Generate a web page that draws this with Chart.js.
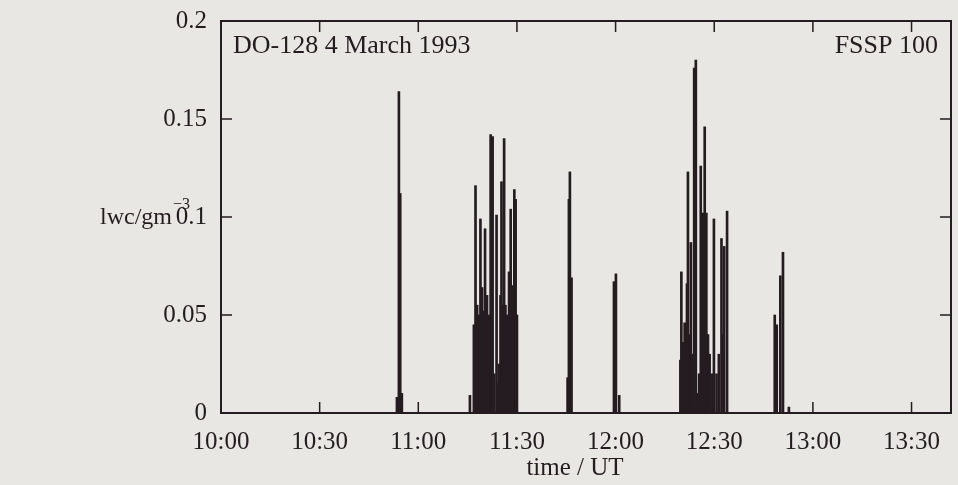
<!DOCTYPE html>
<html>
<head>
<meta charset="utf-8">
<title>DO-128 4 March 1993 - FSSP 100</title>
<script src="https://cdn.jsdelivr.net/npm/chart.js@4.4.1/dist/chart.umd.min.js"></script>
<style>
  html, body { margin: 0; padding: 0; background: #e8e7e3; }
  #lwcChart { display: block; }
</style>
</head>
<body>
<canvas id="lwcChart" width="958" height="485"></canvas>
<script>
// time in minutes after 10:00 UT, lwc in g/m^3
const times = [
  53.5, 54.1, 54.5, 55.0,
  75.7, 76.9, 77.4, 77.9, 78.4, 78.9, 79.4, 79.9, 80.3, 80.9, 81.4, 82.0, 82.3, 82.6,
  83.1, 83.8, 84.1, 84.6, 85.0, 85.3, 85.7, 86.1, 86.5, 87.0, 87.6, 88.1, 88.6, 89.2, 89.6, 90.0,
  105.4, 105.8, 106.1, 106.6,
  119.5, 120.1, 121.1,
  139.7, 140.0, 140.5, 141.0, 141.7, 142.0, 142.5, 142.9, 143.4, 143.9, 144.4, 144.9, 145.4,
  145.9, 146.6, 147.1, 147.6, 148.1, 148.6, 149.3, 149.9, 150.7, 151.4, 152.2, 152.7, 153.0, 153.9,
  168.4, 169.0, 170.1, 170.9, 172.7,
];
const lwc = [
  0.008, 0.164, 0.112, 0.010,
  0.009, 0.045, 0.116, 0.055, 0.050, 0.099, 0.064, 0.052, 0.094, 0.060, 0.050, 0.142, 0.060, 0.141,
  0.020, 0.101, 0.015, 0.025, 0.060, 0.118, 0.055, 0.140, 0.055, 0.050, 0.072, 0.104, 0.065, 0.114, 0.109, 0.050,
  0.018, 0.109, 0.123, 0.069,
  0.067, 0.071, 0.009,
  0.027, 0.072, 0.036, 0.046, 0.066, 0.123, 0.040, 0.087, 0.030, 0.176, 0.180, 0.010, 0.020,
  0.126, 0.102, 0.146, 0.102, 0.040, 0.030, 0.020, 0.099, 0.020, 0.030, 0.089, 0.040, 0.085, 0.103,
  0.050, 0.045, 0.070, 0.082, 0.003,
];
const xTicks = [0, 30, 60, 90, 120, 150, 180, 210];
const yTicks = [0, 0.05, 0.1, 0.15, 0.2];

const flightLabel = "DO-128 4 March 1993";
const probeLabel = "FSSP 100";
const xTitle = "time / UT";

const ink = "#241c20";
const serif = '"Liberation Serif", "DejaVu Serif", serif';

const fmtTime = (m) => {
  const h = 10 + Math.floor(m / 60);
  return h + ":" + String(m % 60).padStart(2, "0");
};

// boxed frame, inward ticks and the texts around the plot
const framePlugin = {
  id: "frame",
  afterDraw(chart) {
    const { ctx, chartArea: a, scales } = chart;
    const tick = 11;
    ctx.save();
    ctx.strokeStyle = ink;
    ctx.lineWidth = 2;
    ctx.strokeRect(a.left, a.top, a.right - a.left, a.bottom - a.top);

    ctx.lineWidth = 1.5;
    ctx.beginPath();
    xTicks.slice(1).forEach((v) => {
      const px = scales.x.getPixelForValue(v);
      ctx.moveTo(px, a.bottom);
      ctx.lineTo(px, a.bottom - tick);
      ctx.moveTo(px, a.top);
      ctx.lineTo(px, a.top + tick);
    });
    yTicks.slice(1, -1).forEach((v) => {
      const py = scales.y.getPixelForValue(v);
      ctx.moveTo(a.left, py);
      ctx.lineTo(a.left + tick, py);
      ctx.moveTo(a.right, py);
      ctx.lineTo(a.right - tick, py);
    });
    ctx.stroke();

    ctx.fillStyle = ink;
    ctx.textBaseline = "alphabetic";
    ctx.font = "26px " + serif;
    ctx.textAlign = "left";
    ctx.fillText(flightLabel, a.left + 12, a.top + 32);
    ctx.textAlign = "right";
    ctx.fillText(probeLabel, a.right - 13, a.top + 32);

    // y axis label with superscript
    ctx.font = "24px " + serif;
    ctx.textAlign = "left";
    const base = "lwc/gm";
    ctx.fillText(base, 100, 224);
    const w = ctx.measureText(base).width;
    ctx.font = "16px " + serif;
    ctx.fillText("\u22123", 100 + w + 1, 209);

    ctx.font = "25px " + serif;
    ctx.textAlign = "center";
    ctx.fillText(xTitle, 575, 475);
    ctx.restore();
  },
};

const ctx = document.getElementById("lwcChart");

new Chart(ctx, {
  type: "bar",
  data: {
    datasets: [
      {
        label: "lwc",
        data: times.map((t, i) => ({ x: t, y: lwc[i] })),
        backgroundColor: ink,
        borderWidth: 0,
        barThickness: 2,
      },
    ],
  },
  options: {
    responsive: false,
    animation: false,
    layout: { padding: { top: 21, right: 7, left: 0, bottom: 0 } },
    plugins: {
      legend: { display: false },
      tooltip: { enabled: false },
    },
    scales: {
      x: {
        type: "linear",
        min: 0,
        max: 222,
        offset: false,
        grid: { display: false, drawTicks: false },
        border: { display: false },
        afterBuildTicks: (s) => {
          s.ticks = xTicks.map((v) => ({ value: v }));
        },
        ticks: {
          autoSkip: false,
          maxRotation: 0,
          padding: 14,
          color: ink,
          font: { family: serif, size: 25 },
          callback: (v) => fmtTime(v),
        },
        afterFit: (s) => {
          s.height = 72;
          s.paddingLeft = 0;
          s.paddingRight = 0;
        },
      },
      y: {
        min: 0,
        max: 0.2,
        grid: { display: false, drawTicks: false },
        border: { display: false },
        afterBuildTicks: (s) => {
          s.ticks = yTicks.map((v) => ({ value: v }));
        },
        ticks: {
          padding: 14,
          color: ink,
          font: { family: serif, size: 25 },
          callback: (v) => String(+v.toFixed(2)),
        },
        afterFit: (s) => {
          s.width = 221;
          s.paddingTop = 0;
          s.paddingBottom = 0;
        },
      },
    },
  },
  plugins: [framePlugin],
});
</script>
</body>
</html>
